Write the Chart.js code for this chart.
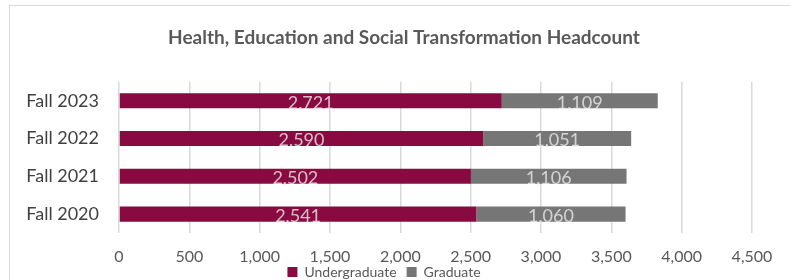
<!DOCTYPE html>
<html>
<head>
<meta charset="utf-8">
<script src="https://cdn.jsdelivr.net/npm/chart.js@4"></script>
<style>
  body { margin: 0; background: #fff; }
  #wrap { position: relative; width: 790px; height: 280px; }
  #frame { position: absolute; left: 9px; top: 5px; width: 790px; height: 290px; border: 1px solid #d9d9d9; box-sizing: border-box; pointer-events: none; }
</style>
</head>
<body>
<div id="wrap">
  <canvas id="chart" width="790" height="280"></canvas>
  <div id="frame"></div>
</div>
<script>
const terms = ['Fall 2020', 'Fall 2021', 'Fall 2022', 'Fall 2023'];
const undergrad = [2541, 2502, 2590, 2721];
const graduate = [1060, 1106, 1051, 1109];
const xTicks = [0, 500, 1000, 1500, 2000, 2500, 3000, 3500, 4000, 4500];

const fontFamily = 'Lato, "Open Sans", sans-serif';

// draws the value in the middle of each bar segment
const segmentLabels = {
  id: 'segmentLabels',
  afterLayout(chart) {
    // title sits a bit right of the legend in the original, legend tucks up under the ticks
    chart.titleBlock.left += 40;
    chart.legend.top -= 12;
  },
  afterDatasetsDraw(chart) {
    const ctx = chart.ctx;
    ctx.save();
    ctx.font = '18px ' + fontFamily;
    ctx.textAlign = 'center';
    ctx.textBaseline = 'middle';
    chart.data.datasets.forEach((ds, i) => {
      chart.getDatasetMeta(i).data.forEach((bar, j) => {
        const mid = (bar.x + bar.base) / 2;
        ctx.fillStyle = 'rgba(235,235,235,0.8)';
        ctx.fillText(ds.data[j].toLocaleString('en-US'), mid, bar.y + 2);
      });
    });
    ctx.restore();
  }
};

new Chart(document.getElementById('chart'), {
  type: 'bar',
  data: {
    labels: terms,
    datasets: [
      { label: 'Undergraduate', data: undergrad, backgroundColor: 'rgb(137,10,64)' },
      { label: 'Graduate', data: graduate, backgroundColor: 'rgb(118,118,118)' }
    ]
  },
  options: {
    indexAxis: 'y',
    responsive: false,
    animation: false,
    barPercentage: 0.4,
    categoryPercentage: 1.0,
    layout: { padding: { left: 16, right: 38, top: 0, bottom: -21 } },
    scales: {
      x: {
        stacked: true,
        min: 0,
        max: 4500,
        afterBuildTicks: (axis) => { axis.ticks = xTicks.map(v => ({ value: v })); },
        afterFit: (axis) => { axis.height = 34; },
        grid: { color: '#d9d9d9', lineWidth: 1.5, drawTicks: false },
        border: { display: false },
        ticks: {
          color: '#595959',
          font: { family: fontFamily, size: 16 },
          padding: 14,
          callback: (v) => v.toLocaleString('en-US')
        }
      },
      y: {
        stacked: true,
        reverse: true,
        afterFit: (axis) => { axis.width = 103; },
        grid: { display: false, drawTicks: false },
        border: { display: false },
        ticks: {
          color: '#404040',
          font: { family: fontFamily, size: 18 },
          padding: 20
        }
      }
    },
    plugins: {
      title: {
        display: true,
        text: 'Health, Education and Social Transformation Headcount',
        color: '#595959',
        font: { family: fontFamily, size: 19, weight: 'bold' },
        padding: { top: 26, bottom: 33 }
      },
      legend: {
        position: 'bottom',
        labels: {
          color: '#595959',
          font: { family: fontFamily, size: 14 },
          boxWidth: 10,
          boxHeight: 10,
          padding: 10
        }
      },
      tooltip: { enabled: false }
    }
  },
  plugins: [segmentLabels]
});
</script>
</body>
</html>
